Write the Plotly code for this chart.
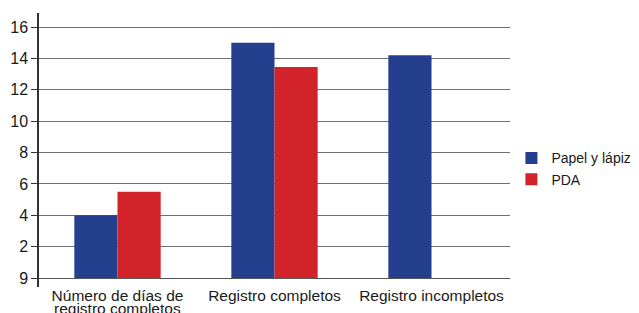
import plotly.graph_objects as go

categories = ["Número de días de registro completos", "Registro completos", "Registro incompletos"]
cat_line1 = ["Número de días de", "Registro completos", "Registro incompletos"]
cat_line2 = "registro completos"
papel = [4.0, 15.0, 14.2]
pda = [5.5, 13.45, 0]
tick_vals = [0, 2, 4, 6, 8, 10, 12, 14, 16]
tick_text = ["9", "2", "4", "6", "8", "10", "12", "14", "16"]

fig = go.Figure()
fig.add_trace(go.Bar(name="Papel y lápiz", x=categories, y=papel, marker=dict(color="#243F8E", line=dict(width=0))))
fig.add_trace(go.Bar(name="PDA", x=categories, y=pda, marker=dict(color="#D2232A", line=dict(width=0))))

fig.update_layout(
    width=631, height=305,
    margin=dict(l=31, r=129, t=5, b=26, autoexpand=False),
    paper_bgcolor="white", plot_bgcolor="white",
    barmode="group", bargap=0.45, bargroupgap=0,
    font=dict(family="Liberation Sans, Arial, sans-serif", size=15, color="#1a1a1a"),
    showlegend=True,
    legend=dict(x=1.003, y=0.528, xanchor="left", yanchor="top",
                font=dict(size=14), itemwidth=30, tracegroupgap=0,
                bgcolor="rgba(0,0,0,0)"),
)
fig.update_xaxes(showline=False, showgrid=False, ticks="", tickfont=dict(size=15.5),
                 tickvals=categories, ticktext=cat_line1, automargin=False,
                 ticklabelstandoff=-3)
fig.add_annotation(x=categories[0], xref="x", y=-0.079, yref="paper", yanchor="middle",
                   text=cat_line2, showarrow=False, font=dict(size=15.5, color="#1a1a1a"))
fig.update_yaxes(range=[-0.57, 16.9], tickvals=tick_vals, ticktext=tick_text,
                 showgrid=True, gridcolor="#707070", gridwidth=1,
                 zeroline=True, zerolinecolor="#555555", zerolinewidth=1,
                 showline=True, linecolor="#333333", linewidth=1.5,
                 ticks="outside", ticklen=6, tickcolor="#333333",
                 tickfont=dict(size=16), automargin=False)
fig.write_html("out.html")
